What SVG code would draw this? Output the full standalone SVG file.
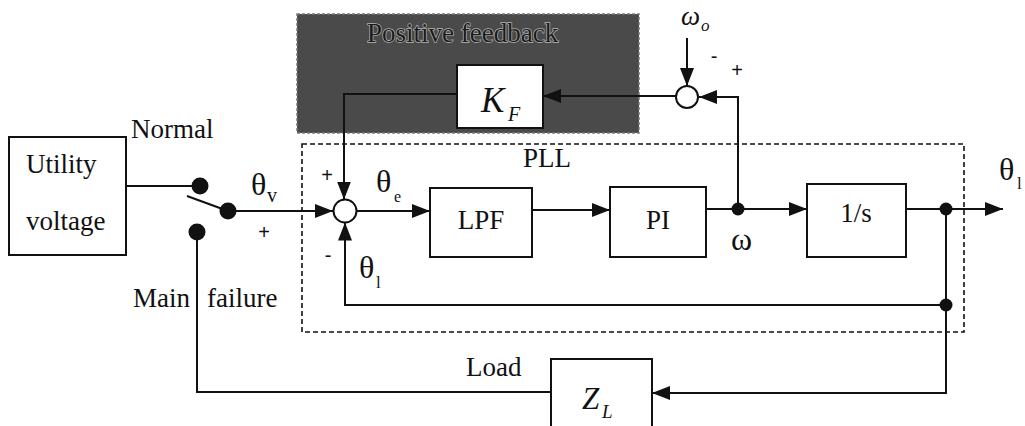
<svg xmlns="http://www.w3.org/2000/svg" width="1025" height="426" viewBox="0 0 1025 426">
<style>
.ln{fill:none;stroke:#111;stroke-width:2}
.bx{fill:#fff;stroke:#111;stroke-width:2}
.t{font-family:"Liberation Serif","Times New Roman",serif;font-size:27px;fill:#111}
.g{font-family:"Liberation Serif","Times New Roman",serif;font-size:32px;fill:#111}
.sub{font-family:"Liberation Serif","Times New Roman",serif;fill:#111}
.it{font-family:"Liberation Serif","Times New Roman",serif;font-style:italic;fill:#111}
.s{font-family:"Liberation Sans",Arial,sans-serif;font-size:20px;fill:#111;text-anchor:middle}
.dot{fill:#111}
</style>
<defs>
<marker id="ar" viewBox="0 0 18 14" refX="18" refY="7" markerWidth="18" markerHeight="14" markerUnits="userSpaceOnUse" orient="auto">
<path d="M0,0 L18,7 L0,14 z" fill="#111"/>
</marker>
</defs>
<rect width="1025" height="426" fill="#fff"/>

<g id="pf-region">
<rect x="297" y="14" width="342" height="119" fill="#4a4a4a" stroke="#7a7a7a" stroke-width="1.5" stroke-dasharray="3,2"/>
<text x="367" y="42" class="t" style="fill:#1a1a1a;stroke:#b5b5b5;stroke-width:1.4px;paint-order:stroke">Positive feedback</text>
</g>
<g id="pll-region">
<rect x="302" y="144" width="662" height="188" fill="none" stroke="#111" stroke-width="1.6" stroke-dasharray="5,3"/>
<text x="523" y="167" class="t">PLL</text>
</g>

<g id="utility">
<rect x="9" y="137" width="117" height="118" class="bx"/>
<text x="26" y="173" class="t">Utility</text>
<text x="26" y="230" class="t">voltage</text>
</g>
<g id="switch">
<circle cx="200" cy="186" r="8.5" class="dot"/>
<circle cx="228" cy="211" r="8.5" class="dot"/>
<circle cx="197" cy="232" r="8.5" class="dot"/>
<text x="131" y="138" class="t">Normal</text>
<text x="133" y="307" class="t">Main</text>
<text x="207" y="307" class="t">failure</text>
</g>
<g id="sum1">
<circle cx="345" cy="211" r="11.5" fill="#fff" stroke="#111" stroke-width="2"/>
</g>
<g id="lpf">
<rect x="430" y="188" width="102" height="69" class="bx"/>
<text x="481" y="229" class="t" text-anchor="middle">LPF</text>
</g>
<g id="pi">
<rect x="610" y="187" width="96" height="70" class="bx"/>
<text x="658" y="229" class="t" text-anchor="middle">PI</text>
</g>
<g id="integrator">
<rect x="807" y="184" width="99" height="73" class="bx"/>
<text x="856" y="222" class="t" text-anchor="middle">1/s</text>
</g>
<g id="kf">
<rect x="457" y="65" width="86" height="63" class="bx"/>
<text x="481" y="112" class="it" font-size="35">K</text>
<text x="508" y="121" class="it" font-size="20">F</text>
</g>
<g id="sum2">
<circle cx="687" cy="97" r="11" fill="#fff" stroke="#111" stroke-width="2"/>
</g>
<g id="zl">
<rect x="551" y="359" width="101" height="80" class="bx"/>
<text x="582" y="409" class="it" font-size="31">Z</text>
<text x="602" y="418" class="it" font-size="19">L</text>
<text x="466" y="376" class="t">Load</text>
</g>

<g id="connectors">
<path class="ln" d="M126,186 H200"/>
<path class="ln" d="M187,196 L228,211"/>
<path class="ln" d="M228,211 H333" marker-end="url(#ar)"/>
<path class="ln" d="M356.5,211 H430" marker-end="url(#ar)"/>
<path class="ln" d="M532,210 H610" marker-end="url(#ar)"/>
<path class="ln" d="M706,209 H807" marker-end="url(#ar)"/>
<path class="ln" d="M906,209 H1003" marker-end="url(#ar)"/>
<path class="ln" d="M946,209 V393 H652" marker-end="url(#ar)"/>
<path class="ln" d="M946,305 H345 V222.5" marker-end="url(#ar)"/>
<path class="ln" d="M738,209 V97 H699" marker-end="url(#ar)"/>
<path class="ln" d="M687,38 V86" marker-end="url(#ar)"/>
<path class="ln" d="M676,96 H543" marker-end="url(#ar)"/>
<path class="ln" d="M457,94 H344 V199.5" marker-end="url(#ar)"/>
<path class="ln" d="M551,392 H197 V232"/>
<circle cx="738" cy="209" r="6.5" class="dot"/>
<circle cx="946" cy="209" r="6.5" class="dot"/>
<circle cx="946" cy="305" r="6.5" class="dot"/>
</g>

<g id="labels">
<text x="251" y="195" class="g">θ</text>
<text x="267" y="202" class="sub" font-size="20">v</text>
<text x="264" y="239" class="s">+</text>
<text x="327" y="182" class="s">+</text>
<text x="328" y="262" class="s">-</text>
<text x="376" y="192" class="g">θ</text>
<text x="394" y="202" class="sub" font-size="16">e</text>
<text x="359" y="278" class="g">θ</text>
<text x="376" y="288" class="sub" font-size="17">l</text>
<text x="731" y="250" class="g">ω</text>
<text x="999" y="180" class="g">θ</text>
<text x="1017" y="189" class="sub" font-size="17">l</text>
<text x="681" y="25" class="it" font-size="27">ω</text>
<text x="701" y="31" class="it" font-size="17">o</text>
<text x="714" y="63" class="s">-</text>
<text x="737" y="77" class="s">+</text>
</g>
</svg>
